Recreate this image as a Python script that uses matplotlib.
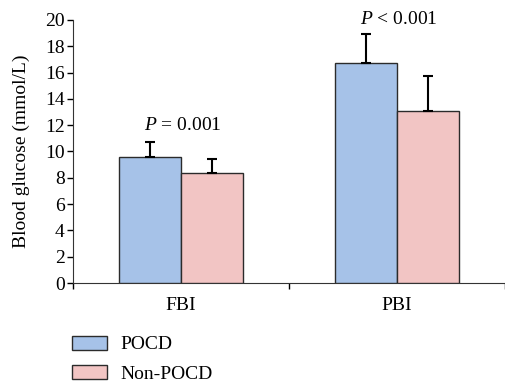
import numpy as np
import matplotlib.pyplot as plt
from matplotlib.patches import Patch

plt.rcParams['font.family'] = ['Liberation Serif', 'DejaVu Serif']
plt.rcParams['mathtext.fontset'] = 'custom'
plt.rcParams['mathtext.rm'] = 'Liberation Serif'
plt.rcParams['mathtext.it'] = 'Liberation Serif:italic'

categories = ["FBI", "PBI"]
pocd = [9.6, 16.7]
pocd_err = [1.15, 2.2]
non_pocd = [8.4, 13.1]
non_pocd_err = [1.05, 2.65]
p_labels = ["= 0.001", "< 0.001"]
p_heights = [12.0, 20.0]

blue = "#A6C2E8"
pink = "#F2C5C4"
edge = "#2b2b2b"
fs = 14

fig = plt.figure(figsize=(5.05, 3.83), dpi=100)
ax = fig.add_axes([0.1446, 0.261, 0.8554, 0.687])

x = np.arange(len(categories))
w = 0.285
ekw = dict(ecolor='black', elinewidth=1.5, capsize=3.6, capthick=1.5)
ax.bar(x - w / 2, pocd, w, color=blue, edgecolor=edge, linewidth=1.0,
       yerr=[np.zeros(2), pocd_err], error_kw=ekw, zorder=3)
ax.bar(x + w / 2, non_pocd, w, color=pink, edgecolor=edge, linewidth=1.0,
       yerr=[np.zeros(2), non_pocd_err], error_kw=ekw, zorder=3)

for xi, lab, h in zip(x, p_labels, p_heights):
    ax.text(xi + 0.01, h, r"$\it{P}$ " + lab, ha='center', va='center', fontsize=fs)

ax.set_xlim(-0.5, 1.5)
ax.set_ylim(0, 20)
ax.set_yticks(range(0, 21, 2))
ax.tick_params(axis='y', labelsize=fs, direction='out', length=4, width=1, pad=2)
ax.set_xticks([-0.5, 0.5, 1.5])
ax.set_xticklabels([])
ax.tick_params(axis='x', direction='out', length=4, width=1)
ax.set_xticks(x, minor=True)
ax.set_xticklabels(categories, minor=True, fontsize=fs)
ax.tick_params(axis='x', which='minor', length=0, pad=10)
ax.set_ylabel("Blood glucose (mmol/L)", fontsize=fs, labelpad=11)
for s in ['top', 'right']:
    ax.spines[s].set_visible(False)
ax.spines['left'].set_color('#333333')
ax.spines['bottom'].set_color('#333333')

handles = [Patch(facecolor=blue, edgecolor=edge, label="POCD"),
           Patch(facecolor=pink, edgecolor=edge, label="Non-POCD")]
fig.legend(handles=handles, loc='upper left', bbox_to_anchor=(0.142, 0.124), frameon=False,
           fontsize=fs, handlelength=1.8, handleheight=0.75, handletextpad=0.7,
           labelspacing=0.6, borderaxespad=0, borderpad=0)

fig.savefig("out.png", dpi=100)
